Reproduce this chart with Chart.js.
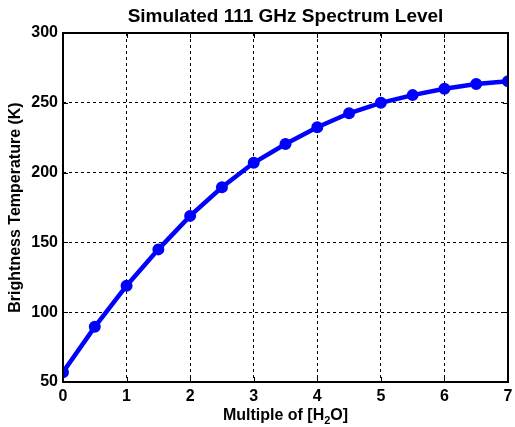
<!DOCTYPE html>
<html>
<head>
<meta charset="utf-8">
<script src="https://cdn.jsdelivr.net/npm/chart.js@4/dist/chart.umd.min.js"></script>
<style>
  html, body { margin: 0; padding: 0; background: #fff; }
  #wrap { width: 515px; height: 427px; }
</style>
</head>
<body>
<div id="wrap"><canvas id="chart" width="515" height="427"></canvas></div>
<script>
// data
var multiples = [0, 0.5, 1, 1.5, 2, 2.5, 3, 3.5, 4, 4.5, 5, 5.5, 6, 6.5, 7];
var brightnessTemp = [57, 89.5, 119, 145, 169, 189.5, 207, 220.5, 232.5, 242.5, 250, 255.5, 260, 263.5, 265.5];
var xTicks = [0, 1, 2, 3, 4, 5, 6, 7];
var yTicks = [50, 100, 150, 200, 250, 300];

var chartTitle = 'Simulated 111 GHz Spectrum Level';
var yTitle = 'Brightness Temperature (K)';

var FONT = '"Liberation Sans", Arial, sans-serif';

var points = [];
for (var i = 0; i < multiples.length; ++i) {
    points.push({ x: multiples[i], y: brightnessTemp[i] });
}

// frame, inward ticks and titles, matlab style
var matlabDecor = {
    id: 'matlabDecor',
    afterDraw: function(chart) {
        var ctx = chart.ctx;
        var a = chart.chartArea;
        var xs = chart.scales.x, ys = chart.scales.y;
        ctx.save();
        ctx.strokeStyle = '#000';
        ctx.lineWidth = 1;
        ctx.setLineDash([]);
        ctx.beginPath();
        for (var i = 0; i < xTicks.length; ++i) {
            var px = Math.round(xs.getPixelForValue(xTicks[i])) + 0.5;
            ctx.moveTo(px, a.bottom); ctx.lineTo(px, a.bottom - 5);
            ctx.moveTo(px, a.top); ctx.lineTo(px, a.top + 5);
        }
        for (var j = 0; j < yTicks.length; ++j) {
            var py = Math.round(ys.getPixelForValue(yTicks[j])) + 0.5;
            ctx.moveTo(a.left, py); ctx.lineTo(a.left + 5, py);
            ctx.moveTo(a.right, py); ctx.lineTo(a.right - 5, py);
        }
        ctx.stroke();
        ctx.lineWidth = 2;
        ctx.strokeRect(a.left, a.top, a.right - a.left, a.bottom - a.top);

        ctx.fillStyle = '#000';
        // title
        ctx.font = 'bold 19px ' + FONT;
        ctx.textAlign = 'center';
        ctx.textBaseline = 'alphabetic';
        ctx.fillText(chartTitle, (a.left + a.right) / 2, 22);

        // x title with subscript
        var partA = 'Multiple of [H', sub = '2', partB = 'O]';
        ctx.font = 'bold 16px ' + FONT;
        var wA = ctx.measureText(partA).width, wB = ctx.measureText(partB).width;
        ctx.font = 'bold 11px ' + FONT;
        var wS = ctx.measureText(sub).width;
        var x0 = (a.left + a.right) / 2 - (wA + wS + wB) / 2;
        var base = 420;
        ctx.textAlign = 'left';
        ctx.font = 'bold 16px ' + FONT;
        ctx.fillText(partA, x0, base);
        ctx.font = 'bold 11px ' + FONT;
        ctx.fillText(sub, x0 + wA, base + 4);
        ctx.font = 'bold 16px ' + FONT;
        ctx.fillText(partB, x0 + wA + wS, base);

        // y title
        ctx.translate(20, (a.top + a.bottom) / 2);
        ctx.rotate(-Math.PI / 2);
        ctx.textAlign = 'center';
        ctx.fillText(yTitle, 0, 0);
        ctx.restore();
    }
};

new Chart(document.getElementById('chart'), {
    type: 'line',
    data: {
        datasets: [{
            data: points,
            borderColor: '#0000ff',
            backgroundColor: '#0000ff',
            borderWidth: 4.5,
            pointRadius: 5,
            pointBorderWidth: 2,
            pointBackgroundColor: '#0000ff',
            pointBorderColor: '#0000ff',
            tension: 0,
            fill: false
        }]
    },
    options: {
        responsive: false,
        animation: false,
        layout: { padding: { top: 33, right: 3, left: 0, bottom: 0 } },
        plugins: {
            legend: { display: false },
            title: { display: false },
            tooltip: { enabled: false }
        },
        scales: {
            x: {
                type: 'linear',
                min: 0,
                max: 7,
                afterFit: function(s) { s.height = 45; s.paddingLeft = 0; s.paddingRight = 0; },
                afterBuildTicks: function(s) { s.ticks = xTicks.map(function(v) { return { value: v }; }); },
                grid: { color: '#000', lineWidth: 1, drawTicks: false },
                border: { display: false, dash: [3, 3] },
                ticks: { color: '#000', padding: 5, font: { family: FONT, size: 16, weight: 'bold' } }
            },
            y: {
                min: 50,
                max: 300,
                afterFit: function(s) { s.width = 63; s.paddingTop = 0; s.paddingBottom = 0; },
                afterBuildTicks: function(s) { s.ticks = yTicks.map(function(v) { return { value: v }; }); },
                grid: { color: '#000', lineWidth: 1, drawTicks: false },
                border: { display: false, dash: [3, 3] },
                ticks: { color: '#000', padding: 5, font: { family: FONT, size: 16, weight: 'bold' } }
            }
        }
    },
    plugins: [matlabDecor]
});
</script>
</body>
</html>
